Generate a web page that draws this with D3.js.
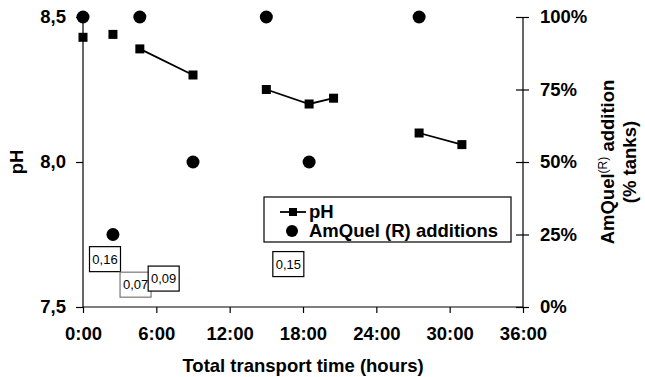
<!DOCTYPE html>
<html>
<head>
<meta charset="utf-8">
<script src="https://cdn.jsdelivr.net/npm/d3@7"></script>
<style>
  body { margin: 0; background: #fff; }
  svg { font-family: "Liberation Sans", Arial, sans-serif; }
  .axis text { font-size: 18.5px; font-weight: bold; fill: #000; }
  .axis path, .axis line { stroke: #000; stroke-width: 1.2; }
</style>
</head>
<body>
<svg id="chart"></svg>
<script>
// pH readings (hours since start); null breaks the line
let phHours = [0, null, 2.45, null, 4.65, 9.0, null, 15.0, 18.5, 20.5, null, 27.5, 31.0];
let phValues = [8.43, null, 8.44, null, 8.39, 8.30, null, 8.25, 8.20, 8.22, null, 8.10, 8.06];

// AmQuel additions (% tanks)
let amHours = [0, 2.45, 4.65, 9.0, 15.0, 18.5, 27.5];
let amValues = [100, 25, 100, 50, 100, 50, 100];

// boxed annotations
let noteText = ["0,16", "0,07", "0,09", "0,15"];
let noteHours = [1.8, 4.3, 6.6, 16.8];
let notePh = [7.665, 7.577, 7.598, 7.648];

let xTicks = [0, 6, 12, 18, 24, 30, 36];
let phTicks = [7.5, 8.0, 8.5];
let pctTicks = [0, 25, 50, 75, 100];

let margin = { top: 17, right: 122, bottom: 70, left: 83 };
let W = 645, H = 377;
let width = W - margin.left - margin.right;
let height = H - margin.top - margin.bottom;

let x = d3.scaleLinear().domain([0, 36]).range([0, width]);
let y = d3.scaleLinear().domain([7.5, 8.5]).range([height, 0]);
let y2 = d3.scaleLinear().domain([0, 100]).range([height, 0]);

let svg = d3.select("#chart")
  .attr("width", W)
  .attr("height", H)
  .append("g")
  .attr("transform", "translate(" + margin.left + "," + margin.top + ")");

// axes
let xAxis = d3.axisBottom(x).tickValues(xTicks).tickSize(6).tickPadding(14)
  .tickFormat(d => d + ":00");
let yAxis = d3.axisLeft(y).tickValues(phTicks).tickSize(7).tickPadding(10)
  .tickFormat(d => d3.format(".1f")(d).replace(".", ","));
let y2Axis = d3.axisRight(y2).tickValues(pctTicks).tickSize(6).tickPadding(11)
  .tickFormat(d => d + "%");

svg.append("g").attr("class", "x axis")
  .attr("transform", "translate(0," + height + ")")
  .call(xAxis)
  .call(g => g.select(".domain").attr("d", "M0,0H" + width));

svg.append("g").attr("class", "y axis")
  .call(yAxis)
  .call(g => g.select(".domain").attr("d", "M0,0V" + height));

svg.append("g").attr("class", "y2 axis")
  .attr("transform", "translate(" + width + ",0)")
  .call(y2Axis)
  .call(g => g.select(".domain").attr("d", "M0,0V" + height))
  .call(g => g.selectAll(".tick line").attr("x1", -7).attr("x2", 6));

// pH line
let phData = phHours.map((h, i) => ({ h: h, v: phValues[i] }));
let line = d3.line()
  .defined(d => d.v != null)
  .x(d => x(d.h))
  .y(d => y(d.v));

svg.append("path")
  .datum(phData)
  .attr("fill", "none")
  .attr("stroke", "#000")
  .attr("stroke-width", 1.8)
  .attr("d", line);

svg.selectAll(".sq")
  .data(phData.filter(d => d.v != null))
  .enter().append("rect")
  .attr("class", "sq")
  .attr("x", d => x(d.h) - 4.5)
  .attr("y", d => y(d.v) - 4.5)
  .attr("width", 9)
  .attr("height", 9)
  .attr("fill", "#000");

// AmQuel dots
svg.selectAll(".dot")
  .data(amHours.map((h, i) => ({ h: h, v: amValues[i] })))
  .enter().append("circle")
  .attr("class", "dot")
  .attr("cx", d => x(d.h))
  .attr("cy", d => y2(d.v))
  .attr("r", 6.5)
  .attr("fill", "#000");

// boxed notes
let notes = svg.selectAll(".note")
  .data(noteText.map((t, i) => ({ t: t, h: noteHours[i], v: notePh[i] })))
  .enter().append("g")
  .attr("class", "note")
  .attr("transform", d => "translate(" + x(d.h) + "," + y(d.v) + ")");

notes.append("rect")
  .attr("x", -15.5).attr("y", -12.5)
  .attr("width", 31).attr("height", 25)
  .attr("fill", "#fff")
  .attr("stroke", (d, i) => i == 1 ? "#777" : "#000")
  .attr("stroke-width", 1.2);

notes.append("text")
  .attr("text-anchor", "middle")
  .attr("dy", "0.35em")
  .style("font-family", "'Liberation Sans Narrow', 'Liberation Sans', Arial, sans-serif")
  .style("font-size", "13px")
  .text(d => d.t);

// legend
let leg = svg.append("g").attr("transform", "translate(181,180)");
leg.append("rect")
  .attr("width", 247).attr("height", 45)
  .attr("fill", "#fff").attr("stroke", "#000").attr("stroke-width", 1.2);
leg.append("line")
  .attr("x1", 16).attr("x2", 42).attr("y1", 15).attr("y2", 15)
  .attr("stroke", "#000").attr("stroke-width", 1.8);
leg.append("rect")
  .attr("x", 25).attr("y", 11).attr("width", 8).attr("height", 8).attr("fill", "#000");
leg.append("circle")
  .attr("cx", 28).attr("cy", 34).attr("r", 6).attr("fill", "#000");
leg.append("text").attr("x", 45).attr("y", 21)
  .style("font-size", "18.5px").style("font-weight", "bold").text("pH");
leg.append("text").attr("x", 45).attr("y", 40)
  .style("font-size", "18.5px").style("font-weight", "bold").text("AmQuel (R) additions");

// axis titles
svg.append("text")
  .attr("transform", "translate(" + (-66) + "," + (height / 2) + ") rotate(-90)")
  .attr("text-anchor", "middle")
  .attr("dy", "0.35em")
  .style("font-size", "18.5px").style("font-weight", "bold")
  .text("pH");

svg.append("text")
  .attr("x", width / 2)
  .attr("y", height + 65)
  .attr("text-anchor", "middle")
  .style("font-size", "18.5px").style("font-weight", "bold")
  .text("Total transport time (hours)");

let rt = svg.append("text")
  .attr("transform", "translate(" + (width + 91) + "," + (height / 2) + ") rotate(-90)")
  .attr("text-anchor", "middle")
  .style("font-size", "18.5px").style("font-weight", "bold");
rt.append("tspan").text("AmQuel");
rt.append("tspan").attr("dy", -7).style("font-size", "12px").style("font-weight", "normal").text("(R)");
rt.append("tspan").attr("dy", 7).text(" addition");

svg.append("text")
  .attr("transform", "translate(" + (width + 113) + "," + (height / 2) + ") rotate(-90)")
  .attr("text-anchor", "middle")
  .style("font-size", "18.5px").style("font-weight", "bold")
  .text("(% tanks)");
</script>
</body>
</html>
